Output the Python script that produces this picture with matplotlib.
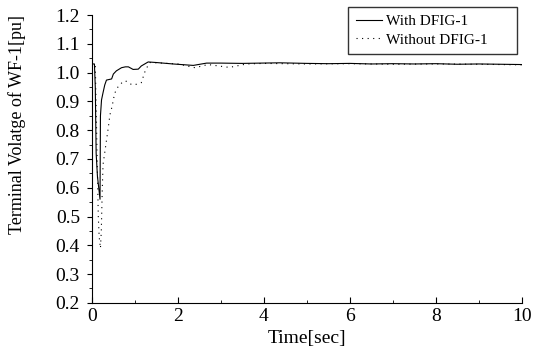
import matplotlib
matplotlib.use('Agg')
import matplotlib.pyplot as plt
from matplotlib.ticker import MultipleLocator, FormatStrFormatter

plt.rcParams['font.family'] = ['Liberation Serif', 'DejaVu Serif']

# with DFIG-1 (solid)
t_with = [0, 0.06, 0.08, 0.10, 0.13, 0.16, 0.19, 0.20, 0.225, 0.26, 0.30, 0.34, 0.40,
          0.46, 0.50, 0.57, 0.69, 0.78, 0.85, 0.96, 1.08, 1.15, 1.31, 1.50, 1.89,
          2.36, 2.67, 3.0, 3.5, 4.37, 5.0, 5.5, 6.0, 6.5, 7.0, 7.5, 8.0, 8.5, 9.0,
          9.5, 10.0]
v_with = [1.03, 1.03, 0.95, 0.72, 0.64, 0.60, 0.56, 0.85, 0.905, 0.93, 0.957, 0.974,
          0.976, 0.978, 0.995, 1.006, 1.017, 1.02, 1.02, 1.011, 1.012, 1.023, 1.037,
          1.035, 1.03, 1.025, 1.033, 1.033, 1.032, 1.034, 1.032, 1.031, 1.032, 1.03,
          1.031, 1.03, 1.031, 1.029, 1.03, 1.029, 1.028]

# without DFIG-1 (dotted)
t_without = [0, 0.08, 0.11, 0.15, 0.17, 0.20, 0.22, 0.24, 0.26, 0.33, 0.38, 0.42,
             0.47, 0.53, 0.61, 0.70, 0.78, 0.87, 0.96, 1.05, 1.15, 1.25, 1.35, 1.5,
             2.0, 2.4, 2.7, 3.2, 3.6, 4.0, 4.5, 5.0, 6.0, 7.0, 8.0, 9.0, 10.0]
v_without = [1.03, 1.03, 0.80, 0.50, 0.43, 0.39, 0.45, 0.58, 0.68, 0.754, 0.806,
             0.853, 0.882, 0.928, 0.951, 0.965, 0.972, 0.962, 0.957, 0.960, 0.965,
             1.01, 1.035, 1.034, 1.03, 1.017, 1.028, 1.018, 1.03, 1.032, 1.031,
             1.03, 1.031, 1.029, 1.03, 1.029, 1.027]

fig = plt.figure(figsize=(5.34, 3.58), dpi=100)
ax = fig.add_axes([0.172, 0.154, 0.805, 0.804])

ax.plot(t_with, v_with, color='black', lw=0.8, label='With DFIG-1')
ax.plot(t_without, v_without, color='black', lw=0.8, linestyle=(0, (1, 4)),
        label='Without DFIG-1')

ax.set_xlim(0, 10)
ax.set_ylim(0.2, 1.2)
ax.xaxis.set_major_locator(MultipleLocator(2))
ax.xaxis.set_minor_locator(MultipleLocator(1))
ax.yaxis.set_major_locator(MultipleLocator(0.1))
ax.yaxis.set_minor_locator(MultipleLocator(0.05))
ax.yaxis.set_major_formatter(FormatStrFormatter('%.1f'))

ax.spines['top'].set_visible(False)
ax.spines['right'].set_visible(False)
ax.tick_params(axis='x', which='major', direction='in', length=4, labelsize=14, pad=4)
ax.tick_params(axis='x', which='minor', direction='in', length=2)
ax.tick_params(axis='y', which='major', direction='out', length=3.6, labelsize=14, pad=5)
ax.tick_params(axis='y', which='minor', direction='out', length=2)

ax.set_xlabel('Time[sec]', fontsize=14)
ax.xaxis.set_label_coords(0.5, -0.095)
ax.set_ylabel('Terminal Volatge of WF-1[pu]', fontsize=13)
ax.yaxis.set_label_coords(-0.153, 0.618)

leg = ax.legend(loc='upper left', mode='expand',
                bbox_to_anchor=(348 / 534, 1 - 54 / 358, (517 - 348) / 534, 47 / 358),
                bbox_transform=fig.transFigure, fontsize=11, frameon=True,
                fancybox=False, edgecolor='black', handlelength=1.7,
                handletextpad=0.3, borderpad=0.5, labelspacing=0.3,
                borderaxespad=0)
leg.get_frame().set_linewidth(1.0)

plt.savefig('out.png', dpi=100)
